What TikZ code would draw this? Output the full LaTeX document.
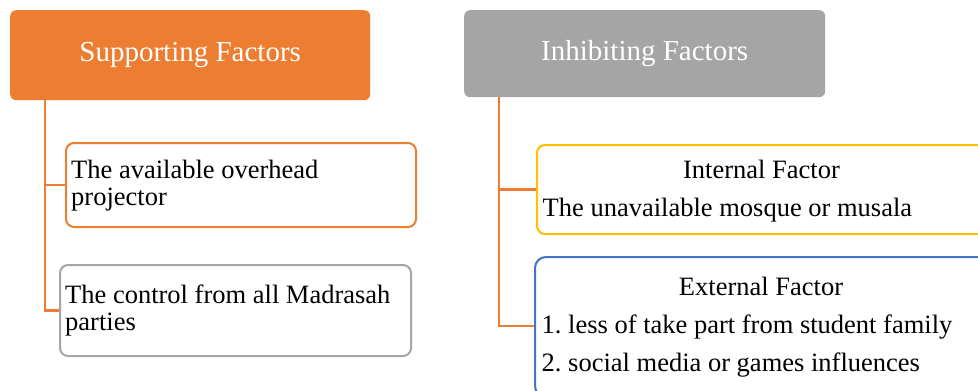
\documentclass[tikz,border=0pt]{standalone}
\usepackage{fontspec}
\setmainfont{Liberation Serif}
\frenchspacing
\definecolor{orng}{HTML}{ED7D31}
\definecolor{gry}{HTML}{A5A5A5}
\definecolor{ylw}{HTML}{FFC000}
\definecolor{blu}{HTML}{4472C4}
\begin{document}
\begin{tikzpicture}[x=1pt,y=-1pt,
  titlebox/.style={rounded corners=6pt, inner sep=0pt, anchor=north west, text=white,
    font=\fontsize{29}{34}\selectfont},
  itembox/.style={rounded corners=8pt, line width=2pt, fill=white, inner sep=0pt, anchor=north west},
  txt/.style={inner sep=0pt, font=\fontsize{26.5}{30}\selectfont\frenchspacing},
  conn/.style={draw=orng, line width=2.2pt}]
\clip (0,0) rectangle (978,391);
\fill[white] (0,0) rectangle (978,391);
% title boxes
\node[titlebox, fill=orng, minimum width=360pt, minimum height=90pt] (st) at (10,10) {Supporting Factors};
\node[titlebox, fill=gry, minimum width=361pt, minimum height=87pt] (it) at (464,10) {Inhibiting Factors};
% item boxes
\node[itembox, draw=orng, minimum width=350pt, minimum height=84pt] (b1) at (65,142) {};
\node[itembox, draw=gry, minimum width=351pt, minimum height=91pt] (b2) at (59,264) {};
\node[itembox, draw=ylw, minimum width=460pt, minimum height=89pt] (b3) at (536,144) {};
\node[itembox, draw=blu, rounded corners=11pt, minimum width=460pt, minimum height=140pt] (b4) at (534,256) {};
% connectors
\coordinate (sv) at ([xshift=35pt]st.south west);
\coordinate (iv) at ([xshift=35pt]it.south west);
\draw[conn] (sv) |- (b1.west);
\draw[conn] (sv) |- (b2.west);
\draw[conn] (iv) |- (b3.west);
\draw[conn] (iv) |- ([yshift=1pt]b4.west);
% texts
\node[txt, anchor=base west] (t1a) at (71,178) {The available overhead};
\node[txt, anchor=base west] (t1b) at (71,205) {projector};
\node[txt, anchor=base west] (t2a) at (65,303) {The control from all Madrasah};
\node[txt, anchor=base west] (t2b) at (65,330) {parties};
\node[txt, anchor=base] (t3a) at (761.5,178) {Internal Factor};
\node[txt, anchor=base west] (t3b) at (542.5,216) {The unavailable mosque or musala};
\node[txt, anchor=base] (t4a) at (761,295) {External Factor};
\node[txt, anchor=base west] (t4b) at (541.5,333) {1. less of take part from student family};
\node[txt, anchor=base west] (t4c) at (541.5,371) {2. social media or games influences};
\end{tikzpicture}
\end{document}
